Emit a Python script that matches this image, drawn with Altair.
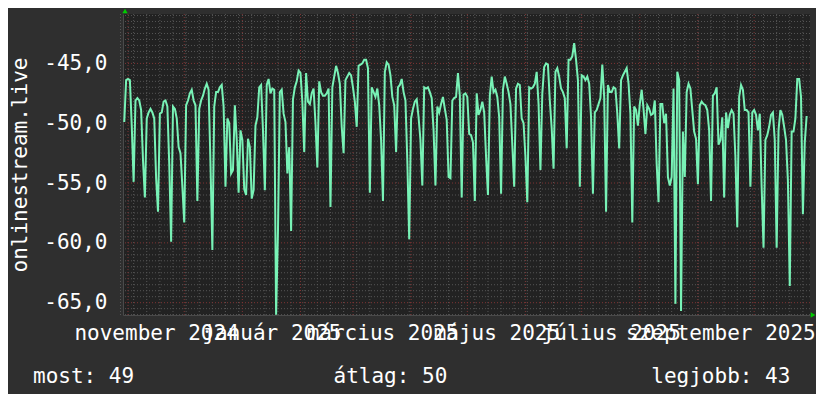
import altair as alt
import pandas as pd
import numpy as np

# ---------------- data ----------------
series_name = "onlinestream.live"
start_date = "2024-10-30"  # one value per day
values = [
    -49.9, -46.4, -46.3, -46.4, -50.2, -54.9, -48.1, -47.9, -48.1, -48.9,
    -53.1, -56.2, -49.6, -49.1, -48.8, -49.1, -49.6, -54.6, -57.4, -49.2,
    -49.1, -48.2, -48.1, -48.6, -53.4, -59.9, -48.6, -48.8, -49.6, -52.0,
    -52.5, -55.3, -58.3, -48.5, -48.1, -47.5, -47.2, -48.1, -48.5, -56.5,
    -48.8, -48.1, -47.7, -47.1, -46.7, -47.2, -53.4, -60.6, -48.6, -47.4,
    -47.4, -47.0, -46.8, -48.6, -55.3, -49.6, -50.0, -54.2, -53.9, -48.5,
    -51.4, -55.8, -50.6, -51.4, -55.5, -56.0, -51.3, -52.0, -56.3, -55.6,
    -50.2, -49.5, -47.0, -46.8, -50.6, -55.6, -46.8, -46.3, -47.5, -47.1,
    -47.2, -66.0, -59.0, -47.4, -47.2, -49.2, -49.9, -54.2, -52.0, -59.0,
    -48.0, -47.0, -46.5, -45.6, -45.8, -48.2, -52.4, -45.8, -48.2, -48.4,
    -47.5, -47.1, -50.0, -53.7, -46.5, -47.4, -47.7, -47.7, -47.5, -47.1,
    -57.0, -47.0, -46.1, -45.2, -45.8, -46.7, -50.3, -52.5, -46.4, -46.1,
    -45.8, -46.0, -47.0, -48.2, -50.3, -45.2, -45.1, -45.0, -44.7, -44.7,
    -45.4, -55.8, -47.0, -47.4, -47.8, -47.1, -48.5, -51.4, -56.5, -45.7,
    -44.9, -45.1, -46.0, -47.8, -48.5, -52.4, -47.0, -46.8, -46.3, -47.4,
    -48.1, -53.2, -59.7, -49.6, -48.8, -48.2, -48.0, -49.5, -51.4, -55.2,
    -47.0, -47.1, -47.0, -47.4, -47.9, -50.6, -55.2, -48.6, -49.1, -48.4,
    -47.8, -48.8, -49.7, -54.5, -54.6, -48.1, -47.9, -47.8, -45.8, -47.7,
    -56.2, -47.6, -47.5, -47.8, -50.9, -51.0, -51.6, -56.5, -47.5, -49.3,
    -48.9, -48.2, -49.1, -52.8, -56.0, -47.7, -46.1, -47.4, -47.2, -47.8,
    -49.5, -55.9, -47.2, -46.1, -46.7, -47.4, -48.4, -51.8, -55.3, -47.1,
    -46.7, -46.8, -49.6, -50.0, -52.8, -56.6, -47.0, -47.1, -47.0, -46.7,
    -45.7, -48.4, -53.9, -47.5, -45.3, -45.0, -45.1, -48.1, -50.4, -53.8,
    -45.7, -45.4, -46.1, -47.1, -47.4, -47.9, -52.1, -44.7, -44.7, -44.4,
    -43.3, -44.7, -46.4, -55.3, -46.0, -46.1, -46.4, -46.1, -46.7, -49.5,
    -55.9, -49.1, -48.9, -48.4, -47.9, -45.1, -47.8, -57.4, -46.8, -47.4,
    -47.4, -47.0, -47.1, -49.2, -52.1, -46.4, -46.0, -45.7, -45.4, -46.7,
    -49.2, -58.3, -48.6, -48.9, -50.2, -48.4, -47.2, -48.8, -50.9, -48.5,
    -48.8, -49.3, -49.2, -48.1, -53.4, -56.6, -48.4, -48.4, -50.0, -49.2,
    -54.5, -55.2, -54.5, -47.1, -65.1, -45.7, -46.4, -65.7, -50.7, -54.5,
    -47.4, -46.7, -47.1, -48.9, -50.7, -51.3, -55.1, -48.5, -48.2, -48.4,
    -48.5, -48.9, -50.6, -56.5, -47.7, -47.5, -47.0, -51.8, -51.4, -49.5,
    -56.2, -49.1, -50.4, -49.3, -48.9, -49.2, -52.8, -58.7, -47.8, -46.8,
    -47.2, -48.9, -48.9, -49.1, -55.3, -49.1, -48.9, -49.3, -50.6, -49.2,
    -55.3, -60.4, -51.4, -51.0, -50.3, -49.3, -49.1, -51.4, -60.4, -50.6,
    -48.9, -49.3, -50.3, -51.4, -54.8, -63.6, -50.7, -50.7, -49.6, -46.3,
    -46.3, -47.8, -57.6, -51.6, -49.4,
]

month_names = ["január", "február", "március", "április", "május", "június",
               "július", "augusztus", "szeptember", "október", "november", "december"]
# x-axis labels sit in the middle of every second month (last one nudged left to stay inside)
label_dates = [(2024, 11, 16, 0), (2025, 1, 16, 12), (2025, 3, 16, 12),
               (2025, 5, 16, 12), (2025, 7, 16, 12), (2025, 9, 13, 0)]
y_ticks = [-65, -60, -55, -50, -45]
legend_texts = ["most: 49", "átlag: 50", "legjobb: 43"]

# ---------------- styling ----------------
FONT = "DejaVu Sans Mono"
BG = "#2f2f2f"
CANVAS = "#222222"
LINE = "#78f2b6"
MINOR = "#555555"
MAJOR = "#7e3434"
ARROW = "#00cc00"

x_domain = [alt.DateTime(year=2024, month=10, date=29, hours=8, utc=True),
            alt.DateTime(year=2025, month=10, date=30, hours=19, utc=True)]
y_domain = [-66.03, -40.87]

dates = pd.date_range(start_date, periods=len(values), freq="D")
df = pd.DataFrame({"date": dates.strftime("%Y-%m-%dT%H:%M:%SZ"), "value": values})

# grid positions (weekly Mondays / month starts, 0.5 and 5 units)
mondays = pd.date_range("2024-10-28", "2025-10-30", freq="W-MON")
months = pd.date_range("2024-11-01", "2025-10-01", freq="MS")
minor_x = pd.DataFrame({"date": mondays.strftime("%Y-%m-%dT%H:%M:%SZ")})
major_x = pd.DataFrame({"date": months.strftime("%Y-%m-%dT%H:%M:%SZ")})
ys = np.arange(-66.0, -40.9, 0.5)
minor_y = pd.DataFrame({"value": [v for v in ys if abs(v / 5 - round(v / 5)) > 1e-9]})
major_y = pd.DataFrame({"value": y_ticks})

xs = alt.Scale(type="utc", domain=x_domain)
ysc = alt.Scale(domain=y_domain, nice=False, zero=False)

month_arr = "[" + ",".join("'" + m + "'" for m in month_names) + "]"
x_axis = alt.Axis(
    values=[alt.DateTime(year=a, month=b, date=c, hours=h, utc=True) for a, b, c, h in label_dates],
    labelExpr=month_arr + "[utcmonth(datum.value)] + ' ' + utcyear(datum.value)",
    labelFont=FONT, labelFontSize=21, labelColor="#ffffff", labelLimit=0,
    labelOverlap=False, labelFlush=False, labelBound=False,
    labelBaseline="alphabetic", labelPadding=24, labelAlign="center",
    ticks=False, grid=False, domain=True, domainColor="#4a4a4a", title=None,
)
y_axis = alt.Axis(
    values=y_ticks,
    labelExpr="replace(replace(format(datum.value, '.1f'), '.', ','), '\u2212', '-')",
    labelFont=FONT, labelFontSize=21, labelColor="#ffffff", labelLimit=0,
    labelOverlap=False, labelFlush=False, labelPadding=16,
    ticks=False, grid=False, domain=True, domainColor="#4a4a4a",
    title=series_name, titleFont=FONT, titleFontSize=21, titleColor="#ffffff",
    titleFontWeight="normal", titleAngle=270, titleX=-97, titleY=150.5,
    titleAlign="center", titleBaseline="alphabetic", titleLimit=0,
)

grid_minor_x = alt.Chart(minor_x).mark_rule(color=MINOR, strokeWidth=1, strokeDash=[1, 2]).encode(
    x=alt.X("date:T", scale=xs))
grid_minor_y = alt.Chart(minor_y).mark_rule(color=MINOR, strokeWidth=1, strokeDash=[1, 2]).encode(
    y=alt.Y("value:Q", scale=ysc))
grid_major_x = alt.Chart(major_x).mark_rule(color=MAJOR, strokeWidth=1, strokeDash=[1, 2]).encode(
    x=alt.X("date:T", scale=xs))
grid_major_y = alt.Chart(major_y).mark_rule(color=MAJOR, strokeWidth=1, strokeDash=[1, 2]).encode(
    y=alt.Y("value:Q", scale=ysc))

line = alt.Chart(df).mark_line(color=LINE, strokeWidth=2, clip=True).encode(
    x=alt.X("date:T", scale=xs, axis=x_axis),
    y=alt.Y("value:Q", scale=ysc, axis=y_axis),
)

one = pd.DataFrame({"k": [0]})
arrow_up = alt.Chart(one).mark_point(shape="triangle-up", filled=True, color=ARROW, size=28, opacity=1).encode(
    x=alt.value(2), y=alt.value(-3))
arrow_right = alt.Chart(one).mark_point(shape="triangle-right", filled=True, color=ARROW, size=28, opacity=1).encode(
    x=alt.value(690), y=alt.value(301))

legend_layers = []
for txt, px in zip(legend_texts, [-90, 210.5, 528.3]):
    legend_layers.append(
        alt.Chart(pd.DataFrame({"t": [txt]})).mark_text(
            align="left", baseline="alphabetic", font=FONT, fontSize=21, color="#ffffff"
        ).encode(x=alt.value(px), y=alt.value(369), text="t:N")
    )

chart = alt.layer(
    grid_minor_x, grid_minor_y, grid_major_x, grid_major_y, line, arrow_up, arrow_right, *legend_layers
).properties(
    width=687, height=301,
    padding={"left": 115, "top": 6, "right": 6, "bottom": 79},
    autosize=alt.AutoSizeParams(type="none"),
    background=BG,
).configure_view(fill=CANVAS, strokeWidth=0)

chart.save("out.html", embed_options={"renderer": "svg", "actions": False})
